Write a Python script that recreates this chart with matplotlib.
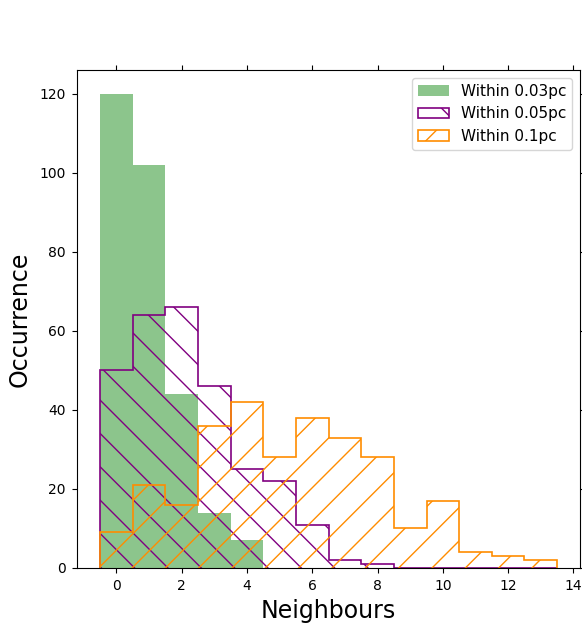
import numpy as np
import matplotlib
matplotlib.use('Agg')
import matplotlib.pyplot as plt

# Liczba sąsiadów w trzech promieniach (histogramy o przedziałach szerokości 1)
neighbours = np.arange(0, 14)
within_003 = [120, 102, 44, 14, 7, 0, 0, 0, 0, 0, 0, 0, 0, 0]
within_005 = [50, 64, 66, 46, 25, 22, 11, 2, 1, 0, 0, 0, 0, 0]
within_01 = [9, 21, 16, 36, 42, 28, 38, 33, 28, 10, 17, 4, 3, 2]
edges = np.arange(-0.5, 14.0, 1.0)

fig = plt.figure(figsize=(5.82, 6.27), dpi=100)
ax = fig.add_axes([0.1323, 0.0941, 0.8643, 0.7943])

ax.hist(neighbours, bins=edges, weights=within_003, histtype='stepfilled',
        color='green', alpha=0.45, label='Within 0.03pc')
ax.hist(neighbours, bins=edges, weights=within_005, histtype='step',
        color='purple', hatch='\\', lw=1.2, label='Within 0.05pc')
ax.hist(neighbours, bins=edges, weights=within_01, histtype='step',
        color='darkorange', hatch='/', lw=1.2, label='Within 0.1pc')

ax.tick_params(direction='out', top=True, right=True, pad=4.5)
ax.set_xticks(np.arange(0, 15, 2))
ax.set_xlabel('Neighbours', fontsize=17, labelpad=4)
ax.set_ylabel('Occurrence', fontsize=17, labelpad=6)
ax.legend(loc='upper right', fontsize=11)

fig.savefig('out.png', dpi=100)
